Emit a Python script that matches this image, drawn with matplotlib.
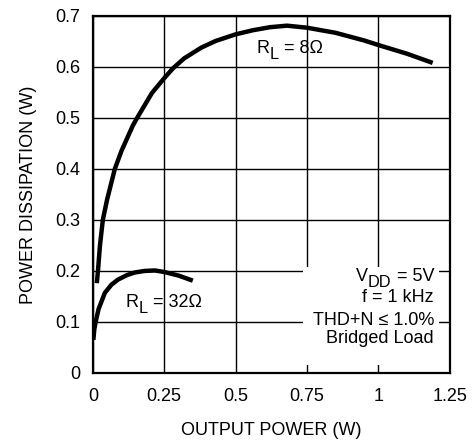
import matplotlib
matplotlib.use("Agg")
import matplotlib.pyplot as plt
from matplotlib.patches import Rectangle
from matplotlib.transforms import offset_copy

plt.rcParams["font.family"] = ["Liberation Sans", "DejaVu Sans"]

# power dissipation vs output power, bridged load
x_8ohm = [0.014, 0.018, 0.025, 0.035, 0.05, 0.077, 0.1, 0.14, 0.155, 0.207, 0.25,
          0.28, 0.32, 0.38, 0.43, 0.5, 0.56, 0.62, 0.68, 0.75, 0.85, 0.95, 1.0,
          1.1, 1.19]
y_8ohm = [0.176, 0.2, 0.25, 0.3, 0.34, 0.4, 0.435, 0.485, 0.5, 0.549, 0.578,
          0.597, 0.617, 0.638, 0.651, 0.664, 0.672, 0.678, 0.681, 0.677, 0.667,
          0.652, 0.643, 0.626, 0.608]

x_32ohm = [0.002, 0.005, 0.01, 0.02, 0.042, 0.065, 0.088, 0.12, 0.147, 0.18,
           0.217, 0.25, 0.3, 0.35]
y_32ohm = [0.065, 0.085, 0.1, 0.125, 0.157, 0.173, 0.183, 0.192, 0.197, 0.2,
           0.201, 0.198, 0.191, 0.181]

xticks = [0, 0.25, 0.5, 0.75, 1, 1.25]
xtick_labels = ["0", "0.25", "0.5", "0.75", "1", "1.25"]
yticks = [0, 0.1, 0.2, 0.3, 0.4, 0.5, 0.6, 0.7]
ytick_labels = ["0", "0.1", "0.2", "0.3", "0.4", "0.5", "0.6", "0.7"]

FS = 13

fig = plt.figure(figsize=(4.76, 4.44), dpi=100)
ax = fig.add_axes([0.195, 0.160, 0.750, 0.804])
renderer = fig.canvas.get_renderer()


def sub_text(x, y, parts, ha="left"):
    # parts: (string, size factor, vertical shift in points)
    widths = []
    for s, k, dy in parts:
        t = fig.text(0, 0, s, fontsize=FS * k)
        widths.append(t.get_window_extent(renderer).width * 72 / fig.dpi)
        t.remove()
    dx = -sum(widths) if ha == "right" else 0
    for (s, k, dy), w in zip(parts, widths):
        tr = offset_copy(ax.transData, fig=fig, x=dx, y=dy, units="points")
        ax.text(x, y, s, fontsize=FS * k, ha="left", va="baseline",
                transform=tr, zorder=5)
        dx += w


ax.plot(x_8ohm, y_8ohm, color="black", lw=3.2, solid_capstyle="butt", zorder=4)
ax.plot(x_32ohm, y_32ohm, color="black", lw=3.2, solid_capstyle="butt", zorder=4)

ax.set_xlim(0, 1.25)
ax.set_ylim(0, 0.7)
ax.set_xticks(xticks)
ax.set_xticklabels(xtick_labels)
ax.set_yticks(yticks)
ax.set_yticklabels(ytick_labels)
ax.tick_params(length=0, labelsize=FS, colors="black")
ax.tick_params(axis="x", pad=11)
ax.tick_params(axis="y", pad=9)
ax.grid(True, color="black", lw=1.0)
ax.set_axisbelow(True)
for s in ax.spines.values():
    s.set_linewidth(1.6)
    s.set_zorder(6)

# white panel behind the test conditions
ax.add_patch(Rectangle((0.735, 0.015), 0.478, 0.193, facecolor="white",
                       edgecolor="none", zorder=2))
sub_text(1.195, 0.181, [("V", 1, 0), ("DD", 0.9, -4.5), (" = 5V", 1, 0)], ha="right")
sub_text(1.195, 0.139, [("f = 1 kHz", 1, 0)], ha="right")
sub_text(1.195, 0.095, [("THD+N \u2264 1.0%", 1, 0)], ha="right")
sub_text(1.195, 0.058, [("Bridged Load", 1, 0)], ha="right")

sub_text(0.574, 0.628, [("R", 1, 0), ("L", 0.9, -4.5), (" = 8Ω", 1, 0)])
sub_text(0.116, 0.130, [("R", 1, 0), ("L", 0.9, -4.5), (" = 32Ω", 1, 0)])

ax.set_xlabel("OUTPUT POWER (W)", fontsize=FS, labelpad=12)
ax.set_ylabel("POWER DISSIPATION (W)", fontsize=FS, labelpad=13)

fig.savefig("out.png", dpi=100)
